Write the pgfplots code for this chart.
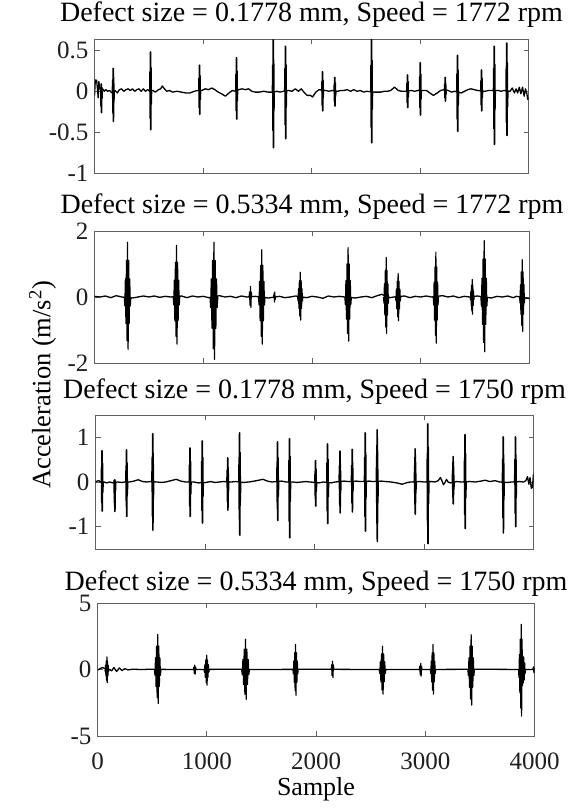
\documentclass[border=0pt]{standalone}
\usepackage{pgfplots}
\pgfplotsset{compat=1.18}
\usepackage{fontspec}
\setmainfont{Liberation Serif}
\newfontfamily\lab{Liberation Serif}
\begin{document}
\pgfplotsset{
  panel/.style={
    scale only axis,
    anchor=south west,
    xmin=0, xmax=4000,
    axis line style={black!62, line width=0.9pt},
    tick style={black!62, line width=0.9pt},
    tick align=inside,
    major tick length=5pt,
    xtick={0,1000,2000,3000,4000},
    xticklabels={},
    scaled x ticks=false,
    scaled y ticks=false,
    /pgf/number format/assume math mode=true,
    /pgf/number format/1000 sep={},
    ticklabel style={font=\lab\fontsize{25}{28}\selectfont, text=black!88},
    yticklabel style={anchor=east, xshift=-2.5pt},
    xticklabel style={anchor=base, yshift=-34pt},
    title style={font=\lab\fontsize{28}{32}\selectfont, at={(0.5,1)}, anchor=base, text=black},
    unbounded coords=jump,
    clip=true,
  },
  sig/.style={black, line width=1.3pt, line join=round, mark=none},
  spk/.style={black, line width=1.7pt, line join=round, mark=none},
  bst/.style={black, line width=1.2pt, line join=round, mark=none},
}
\begin{tikzpicture}
\path[use as bounding box] (0,0) rectangle (568pt,808pt);

% ---------------- Panel 1 ----------------
\begin{axis}[panel, at={(92pt,635pt)}, width=434pt, height=134pt,
  ymin=-1, ymax=0.64, ytick={-1,-0.5,0,0.5},
  title={Defect size = 0.1778 mm, Speed = 1772 rpm}, title style={yshift=11pt}]
\addplot[sig] coordinates {
(0,-0.06)(6,0.10)(12,0.14)(20,0.13)(28,0.02)(34,-0.08)(40,0.12)(48,0.04)(56,0.02)(75,0.03)(90,0.0)(105,0.02)(120,0.0)(140,0.01)(160,-0.02)(190,0.01)(210,-0.02)(230,0.02)(250,0.03)(270,0.0)(290,0.02)(310,0.03)(330,0.01)(350,0.03)(370,0.0)(390,0.02)(410,0.03)(430,0.0)(450,0.03)(470,0.0)(490,0.02)(510,0.0)(540,0.01)(560,-0.01)(590,0.02)(610,0.03)(625,0.065)(645,0.03)(665,0.0)(690,0.01)(720,-0.01)(760,0.0)(800,-0.01)(840,-0.02)(880,-0.02)(920,0.0)(950,0.01)(990,0.01)(1020,0.03)(1050,0.02)(1080,0.04)(1110,0.02)(1140,-0.01)(1170,-0.03)(1207,-0.06)(1240,-0.02)(1270,0.01)(1300,0.0)(1330,0.02)(1360,0.03)(1390,0.02)(1420,0.03)(1450,0.0)(1480,-0.01)(1520,-0.01)(1560,0.0)(1600,-0.01)(1640,-0.01)(1680,0.0)(1710,-0.01)(1740,0.0)(1790,0.01)(1820,0.0)(1850,0.03)(1880,0.0)(1905,0.03)(1930,-0.01)(1960,-0.05)(1990,-0.05)(2010,-0.07)(2040,-0.01)(2070,0.02)(2130,0.01)(2160,0.0)(2190,0.01)(2240,0.0)(2270,0.01)(2300,0.01)(2330,0.02)(2360,0.0)(2390,0.02)(2420,0.0)(2450,0.01)(2480,-0.01)(2510,0.0)(2580,-0.01)(2610,-0.01)(2640,-0.01)(2670,0.0)(2700,0.0)(2730,0.01)(2765,0.05)(2800,0.01)(2830,0.0)(2860,0.0)(2920,0.01)(2950,0.0)(2980,0.01)(3030,0.01)(3060,0.01)(3090,-0.02)(3124,-0.05)(3160,-0.02)(3190,0.01)(3220,0.02)(3260,0.01)(3290,-0.01)(3320,0.0)(3380,-0.02)(3410,0.0)(3440,0.02)(3470,0.03)(3500,0.02)(3530,0.01)(3600,0.0)(3630,0.01)(3660,0.01)(3720,0.01)(3750,0.0)(3770,0.01)(3830,0.0)(3850,0.04)(3870,-0.02)(3885,0.03)(3900,-0.02)(3915,0.05)(3930,-0.03)(3945,0.05)(3960,-0.06)(3972,0.03)(3985,-0.03)(3993,-0.10)(4000,-0.08)
};
\addplot[spk] coordinates {
(56,0)(58,0.05)(60,-0.18)(62,0.09)(64,-0.26)(66,0.05)(68,-0.09)(71,0)(72,nan)
(166,0)(168,0.14)(170,-0.26)(172,0.28)(174,-0.37)(176,0.17)(178,-0.13)(181,0)(182,nan)
(510,0)(512,0.24)(514,-0.33)(516,0.48)(518,-0.47)(520,0.29)(522,-0.16)(525,0)(526,nan)
(962,0)(964,0.16)(966,-0.20)(968,0.32)(970,-0.28)(972,0.19)(974,-0.10)(977,0)(978,nan)
(1303,0)(1305,0.21)(1307,-0.24)(1309,0.41)(1311,-0.34)(1313,0.25)(1315,-0.12)(1318,0)(1319,nan)
(1641,0)(1643,0.32)(1645,-0.48)(1647,0.63)(1649,-0.69)(1651,0.38)(1653,-0.24)(1656,0)(1657,nan)
(1754,0)(1756,0.28)(1758,-0.41)(1760,0.55)(1762,-0.58)(1764,0.33)(1766,-0.20)(1769,0)(1770,nan)
(2095,0)(2097,0.12)(2099,-0.17)(2101,0.24)(2103,-0.24)(2105,0.14)(2107,-0.08)(2110,0)(2111,nan)
(2209,0)(2211,0.09)(2213,-0.13)(2215,0.17)(2217,-0.18)(2219,0.10)(2221,-0.06)(2224,0)(2225,nan)
(2547,0)(2549,0.32)(2551,-0.44)(2553,0.63)(2555,-0.63)(2557,0.38)(2559,-0.22)(2562,0)(2563,nan)
(2879,0)(2881,0.10)(2883,-0.14)(2885,0.20)(2887,-0.20)(2889,0.12)(2891,-0.07)(2894,0)(2895,nan)
(2996,0)(2998,0.18)(3000,-0.20)(3002,0.35)(3004,-0.29)(3006,0.21)(3008,-0.10)(3011,0)(3012,nan)
(3226,0)(3228,0.09)(3230,-0.08)(3232,0.17)(3234,-0.12)(3236,0.10)(3238,-0.04)(3241,0)(3242,nan)
(3340,0)(3342,0.22)(3344,-0.34)(3346,0.44)(3348,-0.49)(3350,0.26)(3352,-0.17)(3355,0)(3356,nan)
(3561,0)(3563,0.13)(3565,-0.17)(3567,0.26)(3569,-0.24)(3571,0.16)(3573,-0.08)(3576,0)(3577,nan)
(3678,0)(3680,0.28)(3682,-0.46)(3684,0.55)(3686,-0.65)(3688,0.33)(3690,-0.23)(3693,0)(3694,nan)
(3794,0)(3796,0.30)(3798,-0.38)(3800,0.59)(3802,-0.54)(3804,0.35)(3806,-0.19)(3809,0)
};
\end{axis}

% ---------------- Panel 2 ----------------
\begin{axis}[panel, at={(92pt,445pt)}, width=435pt, height=132pt,
  ymin=-2, ymax=2, ytick={-2,0,2},
  title={Defect size = 0.5334 mm, Speed = 1772 rpm}, title style={yshift=11pt}]
\addplot[sig] coordinates {
(0,0.02)(50,0.0)(100,0.03)(150,-0.02)(200,0.04)(250,0.0)(350,-0.03)(400,0.0)(450,0.03)(500,0.0)(550,0.03)(600,-0.01)(650,0.02)(700,0.0)(800,0.03)(850,-0.02)(900,0.03)(950,0.0)(1000,0.02)(1050,-0.02)(1150,0.04)(1200,0.0)(1250,0.02)(1300,-0.02)(1350,0.03)(1400,0.0)(1480,0.02)(1600,-0.03)(1700,0.02)(1750,-0.02)(1800,0.0)(1850,0.03)(1950,-0.02)(2000,0.02)(2050,0.0)(2100,-0.04)(2150,0.03)(2200,0.0)(2250,0.02)(2300,0.0)(2400,-0.03)(2450,0.0)(2500,0.02)(2550,-0.02)(2600,0.04)(2640,0.08)(2720,-0.02)(2750,0.0)(2850,0.03)(2900,-0.02)(2950,0.02)(3000,0.0)(3050,0.03)(3100,0.0)(3200,0.04)(3250,0.0)(3300,0.03)(3350,-0.02)(3400,0.02)(3450,0.0)(3520,0.03)(3650,-0.03)(3700,0.02)(3750,0.0)(3800,0.03)(3850,-0.02)(3880,0.02)(4000,-0.05)
};
\addplot[bst] coordinates {
(274,0)(279,-0.27)(284,0.55)(289,-0.80)(294,1.11)(299,-1.32)(304,1.66)(309,-1.59)(314,1.11)(319,-0.80)(324,0.55)(329,-0.27)(334,0)(335,nan)
(724,0)(729,-0.24)(734,0.51)(739,-0.72)(744,1.05)(749,-1.19)(754,1.56)(759,-1.43)(764,1.05)(769,-0.72)(774,0.51)(779,-0.24)(784,0)(785,nan)
(1062,0)(1068,-0.32)(1074,0.55)(1080,-0.95)(1086,1.11)(1092,-1.57)(1098,1.66)(1104,-1.89)(1110,1.11)(1116,-0.95)(1122,0.55)(1128,-0.32)(1134,0)(1135,nan)
(1422,0)(1426,0.15)(1430,-0.25)(1434,0.32)(1438,-0.32)(1442,0.15)(1446,0)(1447,nan)
(1508,0)(1513,-0.24)(1518,0.47)(1523,-0.72)(1528,0.96)(1533,-1.19)(1538,1.43)(1543,-1.43)(1548,0.96)(1553,-0.72)(1558,0.47)(1563,-0.24)(1568,0)(1569,nan)
(1647,0)(1651,0.10)(1655,-0.15)(1657,0.15)(1661,-0.08)(1665,0)(1666,nan)
(1868,0)(1872,-0.12)(1876,0.25)(1880,-0.35)(1884,0.50)(1888,-0.58)(1892,0.75)(1896,-0.70)(1900,0.50)(1904,-0.35)(1908,0.25)(1912,-0.12)(1916,0)(1917,nan)
(2302,0)(2307,-0.23)(2312,0.50)(2317,-0.67)(2322,1.00)(2327,-1.11)(2332,1.50)(2337,-1.34)(2342,1.00)(2347,-0.67)(2352,0.50)(2357,-0.23)(2362,0)(2363,nan)
(2658,0)(2662,-0.19)(2666,0.40)(2670,-0.55)(2674,0.80)(2678,-0.91)(2682,1.20)(2686,-1.10)(2690,0.80)(2694,-0.55)(2698,0.40)(2702,-0.19)(2706,0)(2707,nan)
(2768,0)(2772,-0.12)(2776,0.24)(2780,-0.36)(2784,0.48)(2788,-0.60)(2792,0.72)(2796,-0.72)(2800,0.48)(2804,-0.36)(2808,0.24)(2812,-0.12)(2816,0)(2817,nan)
(3115,0)(3119,-0.24)(3123,0.45)(3127,-0.70)(3131,0.91)(3135,-1.16)(3139,1.36)(3143,-1.40)(3147,0.91)(3151,-0.70)(3155,0.45)(3159,-0.24)(3163,0)(3164,nan)
(3455,0)(3458,-0.09)(3461,0.18)(3464,-0.26)(3467,0.36)(3470,-0.43)(3473,0.53)(3476,-0.52)(3479,0.36)(3482,-0.26)(3485,0.18)(3488,-0.09)(3491,0)(3492,nan)
(3553,0)(3558,-0.28)(3563,0.57)(3568,-0.83)(3573,1.15)(3578,-1.38)(3583,1.71)(3588,-1.66)(3593,1.15)(3598,-0.83)(3603,0.57)(3608,-0.28)(3613,0)(3614,nan)
(3909,0)(3913,-0.18)(3917,0.37)(3921,-0.52)(3925,0.76)(3929,-0.86)(3933,1.13)(3937,-1.04)(3941,0.76)(3945,-0.52)(3949,0.37)(3953,-0.18)(3957,0)
};
\end{axis}

% ---------------- Panel 3 ----------------
\begin{axis}[panel, at={(93pt,259pt)}, width=438pt, height=134pt,
  ymin=-1.5, ymax=1.5, ytick={-1,0,1},
  title={Defect size = 0.1778 mm, Speed = 1750 rpm}, title style={yshift=10pt}]
\addplot[sig] coordinates {
(0,0.0)(15,0.02)(30,0.03)(45,0.0)(80,0.0)(100,-0.02)(130,0.0)(160,-0.02)(200,0.0)(240,-0.01)(270,0.0)(310,0.0)(350,0.02)(390,0.05)(430,0.01)(470,0.0)(500,0.01)(560,0.0)(600,-0.01)(640,0.0)(690,0.03)(737,0.06)(780,0.02)(820,0.0)(900,0.0)(940,-0.02)(1010,-0.01)(1050,0.01)(1090,-0.01)(1130,0.0)(1170,0.01)(1240,0.0)(1280,0.01)(1350,-0.01)(1400,0.0)(1450,0.02)(1490,0.04)(1530,0.06)(1570,0.02)(1610,0.0)(1700,0.02)(1740,0.0)(1800,0.0)(1840,-0.01)(1880,0.0)(1920,0.01)(1960,0.0)(2040,-0.02)(2080,0.0)(2150,-0.02)(2190,0.0)(2270,0.02)(2310,0.01)(2380,0.02)(2420,0.01)(2500,0.02)(2530,0.01)(2610,0.02)(2650,0.01)(2700,0.0)(2750,-0.02)(2800,-0.05)(2850,-0.01)(2880,0.0)(2960,0.01)(3000,0.0)(3070,0.01)(3100,0.0)(3130,0.03)(3150,0.1)(3165,0.02)(3178,-0.06)(3190,-0.02)(3205,0.06)(3220,0.0)(3240,-0.02)(3300,0.01)(3340,0.0)(3420,0.01)(3470,0.0)(3520,0.02)(3560,0.04)(3600,0.01)(3650,0.03)(3690,0.0)(3760,-0.01)(3800,0.0)(3870,0.01)(3910,0.0)(3930,0.03)(3945,0.12)(3958,-0.05)(3968,0.10)(3980,-0.14)(3990,-0.12)(4000,0.18)
};
\addplot[spk] coordinates {
(54,0)(56,0.35)(58,-0.46)(60,0.70)(62,-0.65)(64,0.42)(66,-0.23)(69,0)(70,nan)
(169,0)(171,0.03)(173,-0.46)(175,0.05)(177,-0.66)(179,0.03)(181,-0.23)(184,0)(185,nan)
(278,0)(280,0.36)(282,-0.54)(284,0.72)(286,-0.77)(288,0.43)(290,-0.27)(293,0)(294,nan)
(516,0)(518,0.54)(520,-0.76)(522,1.08)(524,-1.08)(526,0.65)(528,-0.38)(531,0)(532,nan)
(857,0)(859,0.38)(861,-0.54)(863,0.76)(865,-0.77)(867,0.46)(869,-0.27)(872,0)(873,nan)
(969,0)(971,0.46)(973,-0.64)(975,0.92)(977,-0.92)(979,0.55)(981,-0.32)(984,0)(985,nan)
(1201,0)(1203,0.27)(1205,-0.44)(1207,0.54)(1209,-0.63)(1211,0.32)(1213,-0.22)(1216,0)(1217,nan)
(1310,0)(1312,0.55)(1314,-0.83)(1316,1.10)(1318,-1.19)(1320,0.66)(1322,-0.42)(1325,0)(1326,nan)
(1657,0)(1659,0.45)(1661,-0.60)(1663,0.90)(1665,-0.86)(1667,0.54)(1669,-0.30)(1672,0)(1673,nan)
(1766,0)(1768,0.49)(1770,-0.88)(1772,0.97)(1774,-1.25)(1776,0.58)(1778,-0.44)(1781,0)(1782,nan)
(2004,0)(2006,0.24)(2008,-0.38)(2010,0.48)(2012,-0.54)(2014,0.29)(2016,-0.19)(2019,0)(2020,nan)
(2113,0)(2115,0.43)(2117,-0.65)(2119,0.85)(2121,-0.93)(2123,0.51)(2125,-0.33)(2128,0)(2129,nan)
(2226,0)(2228,0.35)(2230,-0.48)(2232,0.69)(2234,-0.69)(2236,0.41)(2238,-0.24)(2241,0)(2242,nan)
(2338,0)(2340,0.37)(2342,-0.47)(2344,0.73)(2346,-0.67)(2348,0.44)(2350,-0.23)(2353,0)(2354,nan)
(2457,0)(2459,0.55)(2461,-0.77)(2463,1.10)(2465,-1.10)(2467,0.66)(2469,-0.39)(2472,0)(2473,nan)
(2566,0)(2568,0.59)(2570,-0.93)(2572,1.17)(2574,-1.33)(2576,0.70)(2578,-0.47)(2581,0)(2582,nan)
(2913,0)(2915,0.37)(2917,-0.50)(2919,0.74)(2921,-0.72)(2923,0.44)(2925,-0.25)(2928,0)(2929,nan)
(3029,0)(3031,0.65)(3033,-0.97)(3035,1.30)(3037,-1.38)(3039,0.78)(3041,-0.48)(3044,0)(3045,nan)
(3260,0)(3262,0.29)(3264,-0.34)(3266,0.57)(3268,-0.49)(3270,0.34)(3272,-0.17)(3275,0)(3276,nan)
(3369,0)(3371,0.53)(3373,-0.73)(3375,1.06)(3377,-1.04)(3379,0.64)(3381,-0.36)(3384,0)(3385,nan)
(3717,0)(3719,0.51)(3721,-0.80)(3723,1.01)(3725,-1.14)(3727,0.61)(3729,-0.40)(3732,0)(3733,nan)
(3829,0)(3831,0.51)(3833,-0.70)(3835,1.01)(3837,-1.00)(3839,0.61)(3841,-0.35)(3844,0)
};
\end{axis}

% ---------------- Panel 4 ----------------
\begin{axis}[panel, at={(95pt,72pt)}, width=437pt, height=133pt,
  ymin=-5, ymax=5, ytick={-5,0,5},
  xticklabels={0,1000,2000,3000,4000},
  title={Defect size = 0.5334 mm, Speed = 1750 rpm}, title style={yshift=7pt},
  xlabel={Sample},
  xlabel style={font=\lab\fontsize{26}{30}\selectfont, at={(0.5,0)}, anchor=base, yshift=-59pt}]
\addplot[sig] coordinates {
(0,-0.05)(20,0.05)(45,0.15)(60,0.1)(110,0.0)(130,-0.1)(150,0.15)(175,-0.15)(200,0.12)(225,-0.08)(250,0.06)(280,-0.03)(320,0.02)(400,0.0)(500,0.02)(700,0.0)(900,0.0)(1200,0.02)(1500,0.0)(2000,0.02)(2500,0.0)(3000,0.0)(3500,0.02)(3900,0.0)(4000,0.0)
};
\addplot[bst] coordinates {
(68,0)(71,-0.17)(74,0.32)(77,-0.49)(80,0.64)(83,-0.81)(86,0.95)(89,-0.98)(92,0.64)(95,-0.49)(98,0.32)(101,-0.17)(104,0)(105,nan)
(521,0)(526,-0.43)(531,0.88)(536,-1.28)(541,1.76)(546,-2.12)(551,2.63)(556,-2.55)(561,1.76)(566,-1.28)(571,0.88)(576,-0.43)(581,0)(582,nan)
(878,0)(882,0.18)(886,-0.28)(890,0.33)(894,-0.35)(898,0.18)(902,0)(903,nan)
(975,0)(979,-0.20)(983,0.36)(987,-0.59)(991,0.72)(995,-0.98)(999,1.08)(1003,-1.18)(1007,0.72)(1011,-0.59)(1015,0.36)(1019,-0.20)(1023,0)(1024,nan)
(1319,0)(1325,-0.38)(1331,0.76)(1337,-1.13)(1343,1.53)(1349,-1.87)(1355,2.28)(1361,-2.25)(1367,1.53)(1373,-1.13)(1379,0.76)(1385,-0.38)(1391,0)(1392,nan)
(1789,0)(1793,-0.33)(1797,0.63)(1801,-0.97)(1805,1.26)(1809,-1.60)(1813,1.88)(1817,-1.93)(1821,1.26)(1825,-0.97)(1829,0.63)(1833,-0.33)(1837,0)(1838,nan)
(2139,0)(2143,0.35)(2147,-0.45)(2151,0.63)(2155,-0.60)(2159,0.35)(2163,0)(2164,nan)
(2579,0)(2584,-0.31)(2589,0.58)(2594,-0.93)(2599,1.17)(2604,-1.54)(2609,1.75)(2614,-1.85)(2619,1.17)(2624,-0.93)(2629,0.58)(2634,-0.31)(2639,0)(2640,nan)
(2946,0)(2950,0.25)(2954,-0.38)(2958,0.45)(2962,-0.50)(2966,0.25)(2970,0)(2971,nan)
(3047,0)(3051,-0.31)(3055,0.63)(3059,-0.93)(3063,1.26)(3067,-1.54)(3071,1.88)(3075,-1.85)(3079,1.26)(3083,-0.93)(3087,0.63)(3091,-0.31)(3095,0)(3096,nan)
(3390,0)(3395,-0.46)(3400,0.88)(3405,-1.34)(3410,1.76)(3415,-2.22)(3420,2.63)(3425,-2.68)(3430,1.76)(3435,-1.34)(3440,0.88)(3445,-0.46)(3450,0)(3451,nan)
(3854,0)(3858,-0.6)(3862,1.13)(3866,-1.75)(3870,2.28)(3874,-2.9)(3878,3.40)(3882,-3.50)(3886,2.28)(3890,-1.2)(3894,1.0)(3898,-1.0)(3902,0.9)(3906,-0.8)(3910,0.5)(3914,-0.3)(3918,0)(3919,nan)
(3985,0)(3990,0.2)(3995,-0.25)(4000,0.1)
};
\end{axis}

\node[rotate=90, font=\lab\fontsize{26.5}{30}\selectfont] at (40pt,423pt) {Acceleration (m/s\textsuperscript{2})};
\end{tikzpicture}
\end{document}
